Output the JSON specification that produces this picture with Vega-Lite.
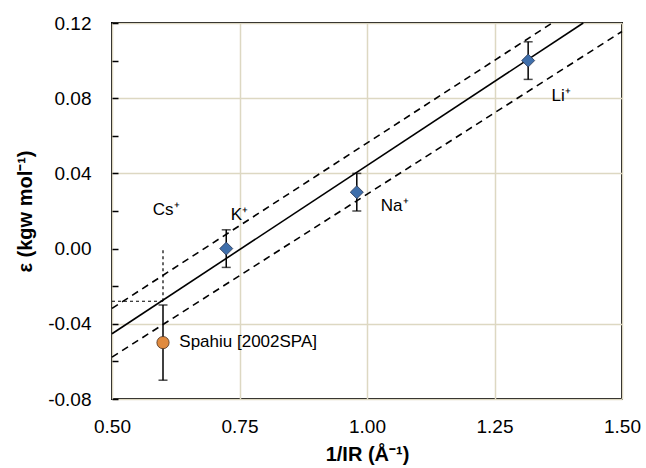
{
  "$schema": "https://vega.github.io/schema/vega-lite/v6.json",
  "autosize": {"type": "none"},
  "padding": {"left": 112, "top": 23, "right": 24, "bottom": 69},
  "width": 510,
  "height": 376,
  "background": "white",
  "config": {
    "view": {"stroke": "#000", "strokeWidth": 2},
    "font": "Liberation Sans",
    "axis": {"labelColor": "#000", "titleColor": "#000", "labelFont": "Liberation Sans", "titleFont": "Liberation Sans", "labelFlush": false, "labelOverlap": false}
  },
  "datasets": {
    "fit": [
      {"x": 0.5, "y": -0.0453, "line": "fit"},
      {"x": 1.424, "y": 0.12, "line": "fit"}
    ],
    "upper": [
      {"x": 0.5, "y": -0.0318, "line": "upper"},
      {"x": 1.363, "y": 0.12, "line": "upper"}
    ],
    "lower": [
      {"x": 0.5, "y": -0.0577, "line": "lower"},
      {"x": 1.5, "y": 0.1155, "line": "lower"}
    ],
    "ref": [
      {"x": 0.5, "y": -0.028, "seg": "h"},
      {"x": 0.6, "y": -0.028, "seg": "h"},
      {"x": 0.6, "y": -0.028, "seg": "v"},
      {"x": 0.6, "y": 0.0, "seg": "v"}
    ],
    "xticks": [
      {"x": 0.75}, {"x": 1.0}, {"x": 1.25}, {"x": 1.5}
    ],
    "points": [
      {"ion": "K⁺", "x": 0.724, "y": 0.0, "lo": -0.01, "hi": 0.01, "source": "ion"},
      {"ion": "Na⁺", "x": 0.98, "y": 0.03, "lo": 0.02, "hi": 0.04, "source": "ion"},
      {"ion": "Li⁺", "x": 1.316, "y": 0.1, "lo": 0.09, "hi": 0.11, "source": "ion"},
      {"ion": "Cs⁺", "x": 0.6, "y": -0.05, "lo": -0.07, "hi": -0.03, "source": "Spahiu"}
    ],
    "labels": [
      {"text": "Cs⁺", "x": 0.58, "y": 0.0205},
      {"text": "K⁺", "x": 0.733, "y": 0.018},
      {"text": "Na⁺", "x": 1.027, "y": 0.0225},
      {"text": "Li⁺", "x": 1.362, "y": 0.081},
      {"text": "Spahiu [2002SPA]", "x": 0.632, "y": -0.0495}
    ]
  },
  "encoding": {
    "x": {
      "field": "x", "type": "quantitative",
      "scale": {"domain": [0.5, 1.5], "nice": false, "zero": false, "padding": 0},
      "axis": {
        "values": [0.5, 0.75, 1.0, 1.25, 1.5],
        "labelExpr": "format(datum.value, '.2f')",
        "ticks": false, "domain": false,
        "grid": true, "gridColor": "#ddd8c2", "gridWidth": 1.5,
        "labelFontSize": 19, "labelPadding": 18,
        "title": "1/IR (Å⁻¹)", "titleFontSize": 20, "titleFontWeight": "bold", "titlePadding": 8
      }
    },
    "y": {
      "field": "y", "type": "quantitative",
      "scale": {"domain": [-0.08, 0.12], "nice": false, "zero": false, "padding": 0},
      "axis": {
        "values": [-0.08, -0.06, -0.04, -0.02, 0.0, 0.02, 0.04, 0.06, 0.08, 0.1, 0.12],
        "labelExpr": "abs(datum.value*25 - round(datum.value*25)) < 0.001 ? replace(format(datum.value, '.2f'), '−', '-') : ''",
        "ticks": true, "tickSize": -6, "tickWidth": 1.5, "tickColor": "#000",
        "domain": false,
        "grid": true, "gridColor": "#ddd8c2", "gridWidth": 1.5,
        "gridOpacity": {"condition": {"test": "abs(datum.value) > 0.001 && abs(datum.value*25 - round(datum.value*25)) < 0.001", "value": 1}, "value": 0},
        "labelFontSize": 19, "labelPadding": 27,
        "title": "ε (kgw mol⁻¹)", "titleFontSize": 20, "titleFontWeight": "bold", "titlePadding": 12
      }
    }
  },
  "layer": [
    {
      "data": {"name": "ref"},
      "mark": {"type": "line", "color": "#000", "strokeWidth": 1.2, "strokeDash": [3, 3]},
      "encoding": {"detail": {"field": "seg"}}
    },
    {
      "data": {"name": "fit"},
      "mark": {"type": "line", "color": "#000", "strokeWidth": 1.6}
    },
    {
      "data": {"name": "upper"},
      "mark": {"type": "line", "color": "#000", "strokeWidth": 1.6, "strokeDash": [7, 5]}
    },
    {
      "data": {"name": "lower"},
      "mark": {"type": "line", "color": "#000", "strokeWidth": 1.6, "strokeDash": [7, 5]}
    },
    {
      "mark": {"type": "rule", "color": "#000", "strokeWidth": 1.6},
      "encoding": {"y": {"datum": 0}, "x": {"datum": 0.5}, "x2": {"datum": 1.5}}
    },
    {
      "data": {"name": "xticks"},
      "mark": {"type": "tick", "orient": "vertical", "color": "#000", "size": 12, "thickness": 1.6},
      "encoding": {"y": {"datum": 0}}
    },
    {
      "data": {"name": "points"},
      "mark": {"type": "rule", "color": "#000", "strokeWidth": 1.5},
      "encoding": {"y": {"field": "lo", "type": "quantitative"}, "y2": {"field": "hi"}}
    },
    {
      "data": {"name": "points"},
      "mark": {"type": "tick", "orient": "horizontal", "color": "#000", "size": 9, "thickness": 1.5},
      "encoding": {"y": {"field": "lo", "type": "quantitative"}}
    },
    {
      "data": {"name": "points"},
      "mark": {"type": "tick", "orient": "horizontal", "color": "#000", "size": 9, "thickness": 1.5},
      "encoding": {"y": {"field": "hi", "type": "quantitative"}}
    },
    {
      "data": {"name": "points"},
      "transform": [{"filter": "datum.source == 'ion'"}],
      "mark": {"type": "point", "shape": "diamond", "filled": true, "size": 170, "color": "#3f6fab", "stroke": "#2a3550", "strokeWidth": 0.8, "opacity": 1}
    },
    {
      "data": {"name": "points"},
      "transform": [{"filter": "datum.source == 'Spahiu'"}],
      "mark": {"type": "point", "shape": "circle", "filled": true, "size": 150, "color": "#e08a3e", "stroke": "#4a3020", "strokeWidth": 0.8, "opacity": 1}
    },
    {
      "data": {"name": "labels"},
      "mark": {"type": "text", "align": "left", "baseline": "middle", "fontSize": 17, "font": "Liberation Sans", "color": "#000"},
      "encoding": {"text": {"field": "text"}}
    }
  ]
}
